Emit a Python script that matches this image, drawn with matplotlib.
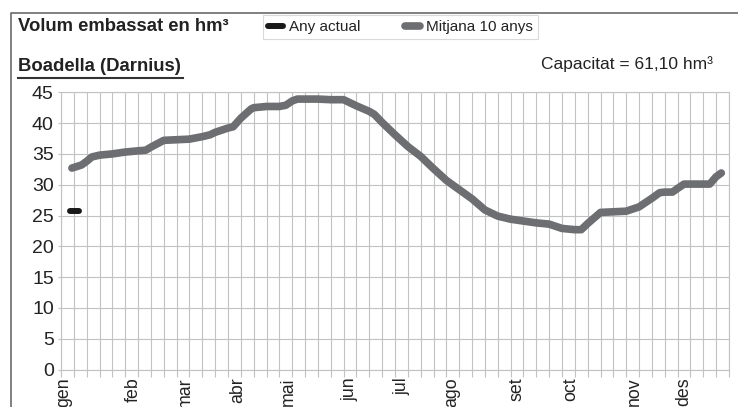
import matplotlib
matplotlib.use('Agg')
import matplotlib.pyplot as plt
from matplotlib.lines import Line2D
from matplotlib.ticker import MultipleLocator

plt.rcParams['font.family'] = ['Liberation Sans', 'DejaVu Sans']

### dades llegides del gràfic (eix x en setmanes de l'any)
mesos = ['gen', 'feb', 'mar', 'abr', 'mai', 'jun', 'jul', 'ago', 'set', 'oct', 'nov', 'des']
pos_mesos = [0.18, 5.63, 9.65, 13.78, 17.67, 22.5, 26.54, 30.44, 35.5, 39.7, 44.6, 48.5]

setmana = [0.85, 1, 1.6, 2, 2.4, 3, 4, 5, 6, 6.6, 7, 8, 9, 10, 11, 11.6, 12, 13, 13.4,
           14, 14.8, 15, 16, 17, 17.5, 18, 18.4, 19, 20, 21, 22, 23, 24, 24.4, 25, 26,
           27, 28, 29, 30, 31, 32, 33, 34, 35, 36, 37, 38, 39, 40, 40.5, 41, 42, 43, 44,
           45, 46, 46.6, 47, 47.6, 48, 48.5, 49, 50, 50.5, 51, 51.4]
mitjana = [32.7, 32.8, 33.2, 33.8, 34.5, 34.8, 35.0, 35.3, 35.5, 35.6, 36.1, 37.2, 37.3,
           37.4, 37.8, 38.1, 38.5, 39.2, 39.4, 40.8, 42.3, 42.5, 42.7, 42.7, 42.9, 43.6,
           43.9, 43.9, 43.9, 43.8, 43.8, 42.8, 41.9, 41.4, 40.1, 38.1, 36.2, 34.6, 32.6,
           30.7, 29.2, 27.7, 25.9, 24.9, 24.4, 24.1, 23.8, 23.6, 22.9, 22.7, 22.7, 23.7,
           25.5, 25.6, 25.7, 26.4, 27.8, 28.7, 28.8, 28.8, 29.4, 30.1, 30.1, 30.1, 30.1,
           31.3, 31.9]

setmana_actual = [0.68, 1.05, 1.43]
any_actual = [25.8, 25.8, 25.8]

capacitat = '61,10'

grid = '#c2c2c2'
text_color = '#222222'

fig = plt.figure(figsize=(7.38, 4.07), dpi=100)
ax = fig.add_axes([61 / 738, 1 - 369.5 / 407, 668 / 738, 277.2 / 407])

h_mitjana, = ax.plot(setmana, mitjana, color='#6d6e71', lw=5.5, solid_capstyle='round',
                     solid_joinstyle='round', label='Mitjana 10 anys', zorder=3)
h_actual, = ax.plot(setmana_actual, any_actual, color='#1a1a1a', lw=4.3,
                    solid_capstyle='round', label='Any actual', zorder=4)

ax.set_xlim(0, 52)
ax.set_ylim(0, 45)
ax.yaxis.set_major_locator(MultipleLocator(5))
ax.xaxis.set_minor_locator(MultipleLocator(1))
ax.set_xticks(pos_mesos)
ax.set_xticklabels(mesos, rotation=90, fontsize=12.8, color=text_color)
ax.tick_params(axis='x', which='major', length=0, pad=5.4)
ax.tick_params(axis='x', which='minor', length=5, color=grid, width=0.8)
ax.tick_params(axis='y', length=2.2, color=grid, width=0.8, pad=3, labelsize=14,
               labelcolor=text_color)
ax.grid(which='minor', axis='x', color=grid, lw=0.8)
ax.grid(which='major', axis='y', color=grid, lw=0.8)
ax.set_axisbelow(True)
for s in ax.spines.values():
    s.set_color(grid)
    s.set_linewidth(0.8)

# textos de capçalera
fig.text(18 / 738, 1 - 30.7 / 407, 'Volum embassat en hm³', fontsize=13.3,
         fontweight='bold', va='baseline', color=text_color)
fig.text(18 / 738, 1 - 70.7 / 407, 'Boadella (Darnius)', fontsize=13.3,
         fontweight='bold', va='baseline', color=text_color)
fig.text(713 / 738, 1 - 69 / 407, 'Capacitat = ' + capacitat + ' hm³', fontsize=12.5,
         ha='right', va='baseline', color=text_color)
fig.add_artist(Line2D([18 / 738, 183 / 738], [1 - 78 / 407] * 2, color='#333333', lw=1.5))

# marc
fig.add_artist(Line2D([11 / 738, 11 / 738, 1], [0, 1 - 13 / 407, 1 - 13 / 407],
                      color='#6b6b6b', lw=1.2))

leg = ax.legend(handles=[h_actual, h_mitjana], loc='upper left',
                bbox_to_anchor=(263 / 738, 1 - 15 / 407), bbox_transform=fig.transFigure,
                ncol=2, frameon=True, fancybox=False, edgecolor='#d0d0d0', fontsize=11,
                handlelength=1.0, handletextpad=0.35, columnspacing=2.95, borderpad=0.33,
                borderaxespad=0)
leg.get_frame().set_linewidth(0.8)
for t in leg.get_texts():
    t.set_color(text_color)

fig.savefig('out.png', dpi=100)
